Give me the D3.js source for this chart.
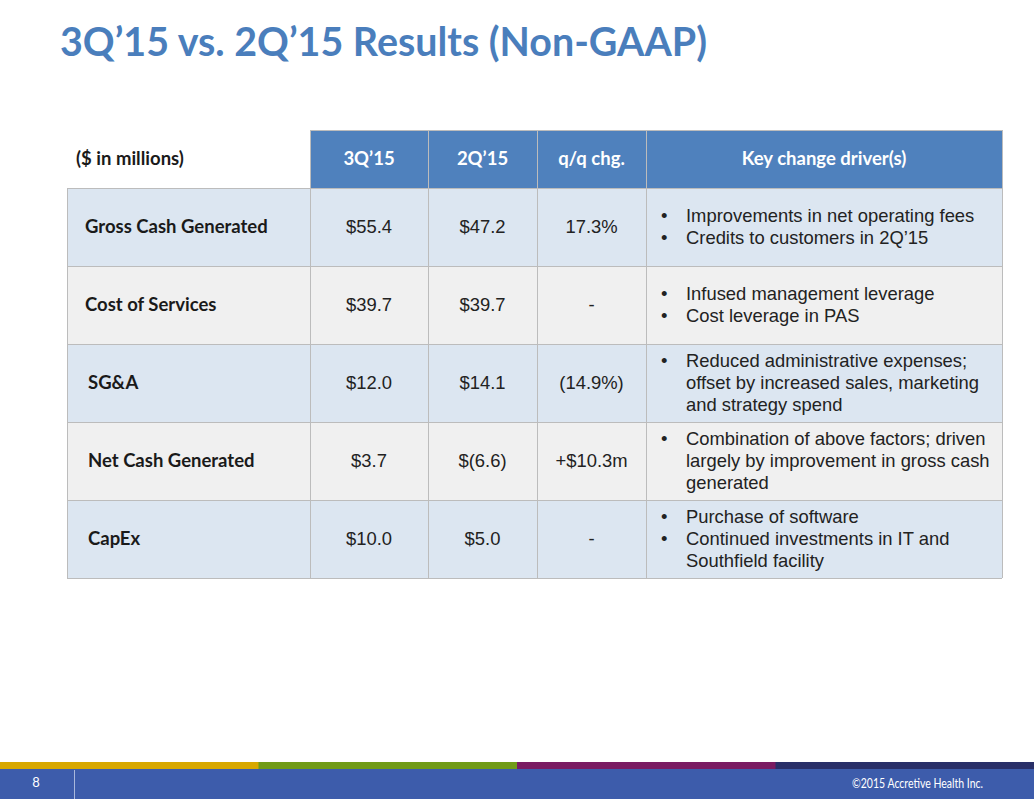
<!DOCTYPE html>
<html>
<head>
<meta charset="utf-8">
<script src="https://cdn.jsdelivr.net/npm/d3@7"></script>
<style>
  html, body { margin: 0; padding: 0; background: #fff; }
  svg { display: block; }
</style>
</head>
<body>
<div id="chart"></div>
<script>
// --- data ---
const titleText = "3Q\u201915 vs. 2Q\u201915 Results (Non-GAAP)";
const columnHeaders = ["($ in millions)", "3Q\u201915", "2Q\u201915", "q/q chg.", "Key change driver(s)"];
const rowLabels = ["Gross Cash Generated", "Cost of Services", "SG&A", "Net Cash Generated", "CapEx"];
const q3Values = ["$55.4", "$39.7", "$12.0", "$3.7", "$10.0"];
const q2Values = ["$47.2", "$39.7", "$14.1", "$(6.6)", "$5.0"];
const qqChange = ["17.3%", "-", "(14.9%)", "+$10.3m", "-"];
const drivers = [
  ["Improvements in net operating fees", "Credits to customers in 2Q\u201915"],
  ["Infused management leverage", "Cost leverage in PAS"],
  ["Reduced administrative expenses; offset by increased sales, marketing and strategy spend"],
  ["Combination of above factors; driven largely by improvement in gross cash generated"],
  ["Purchase of software", "Continued investments in IT and Southfield facility"]
];
const pageNumber = "8";
const copyright = "\u00a92015 Accretive Health Inc.";
const stripeColors = ["#d8a800", "#719b17", "#7a1b62", "#292f68"];

// --- layout ---
const W = 1034, H = 799;
const colEdges = [67, 310, 428, 537, 646, 1002];
const headerTop = 130, bodyTop = 188, bodyBottom = 578;
const rowFills = ["#dce6f1", "#f0f0f0"];
const gridColor = "#bcbcbc";
const headFont = "Lato, 'Open Sans', sans-serif";
const bodyFont = "'Liberation Sans', Arial, sans-serif";
const headSize = 18.5, bodySize = 18.4;

const svg = d3.select("#chart").append("svg")
  .attr("width", W).attr("height", H)
  .attr("viewBox", `0 0 ${W} ${H}`);

// title
svg.append("text")
  .attr("x", 60).attr("y", 56)
  .attr("font-family", headFont).attr("font-weight", 700)
  .attr("font-size", 39.4).attr("fill", "#4a7ebc")
  .text(titleText);

// scales
const y = d3.scaleBand().domain(rowLabels).range([bodyTop, bodyBottom]);
const cols = columnHeaders.map((h, i) => ({ name: h, x0: colEdges[i], x1: colEdges[i + 1] }));

const table = svg.append("g").attr("class", "table");

// header cells (skip first, which is plain)
table.selectAll("rect.head")
  .data(cols.slice(1))
  .join("rect")
  .attr("class", "head")
  .attr("x", d => d.x0).attr("y", headerTop)
  .attr("width", d => d.x1 - d.x0).attr("height", bodyTop - headerTop)
  .attr("fill", "#4f81bd");

table.selectAll("text.head")
  .data(cols)
  .join("text")
  .attr("class", "head")
  .attr("x", (d, i) => i === 0 ? 76 : (d.x0 + d.x1) / 2)
  .attr("y", (headerTop + bodyTop) / 2)
  .attr("dy", "0.35em")
  .attr("text-anchor", (d, i) => i === 0 ? "start" : "middle")
  .attr("font-family", headFont).attr("font-weight", 700)
  .attr("font-size", headSize)
  .attr("fill", (d, i) => i === 0 ? "#1a1a1a" : "#fff")
  .text(d => d.name);

// body rows
const rows = table.selectAll("g.row")
  .data(rowLabels.map((label, i) => ({
    label, i,
    cells: [q3Values[i], q2Values[i], qqChange[i]],
    drivers: drivers[i]
  })))
  .join("g")
  .attr("class", "row");

rows.append("rect")
  .attr("x", colEdges[0]).attr("y", d => y(d.label))
  .attr("width", colEdges[5] - colEdges[0]).attr("height", y.bandwidth())
  .attr("fill", d => rowFills[d.i % 2]);

rows.append("text")
  .attr("x", d => d.i < 2 ? 85 : 88)
  .attr("y", d => y(d.label) + y.bandwidth() / 2)
  .attr("dy", "0.35em")
  .attr("font-family", headFont).attr("font-weight", 700)
  .attr("font-size", headSize).attr("fill", "#1a1a1a")
  .text(d => d.label);

rows.each(function(d) {
  const g = d3.select(this);
  const cy = y(d.label) + y.bandwidth() / 2;
  d.cells.forEach((v, j) => {
    const c = cols[j + 1];
    g.append("text")
      .attr("x", (c.x0 + c.x1) / 2).attr("y", cy).attr("dy", "0.35em")
      .attr("text-anchor", "middle")
      .attr("font-family", bodyFont).attr("font-size", bodySize)
      .attr("fill", "#222")
      .text(v);
  });

  // wrap driver bullets
  const textX = 686, bulletX = 661, maxW = colEdges[5] - textX - 6, lh = 22;
  const measure = g.append("text").attr("font-family", bodyFont).attr("font-size", bodySize);
  const lines = [];
  d.drivers.forEach(item => {
    const words = item.split(" ");
    let line = [];
    let first = true;
    words.forEach(w => {
      const test = line.concat(w).join(" ");
      measure.text(test);
      if (line.length && measure.node().getComputedTextLength() > maxW) {
        lines.push({ text: line.join(" "), bullet: first });
        first = false;
        line = [w];
      } else {
        line.push(w);
      }
    });
    lines.push({ text: line.join(" "), bullet: first });
  });
  measure.remove();

  const startY = cy - (lines.length - 1) * lh / 2;
  lines.forEach((l, k) => {
    const ly = startY + k * lh;
    if (l.bullet) {
      g.append("text")
        .attr("x", bulletX).attr("y", ly).attr("dy", "0.35em")
        .attr("font-family", bodyFont).attr("font-size", bodySize).attr("fill", "#222")
        .text("\u2022");
    }
    g.append("text")
      .attr("x", textX).attr("y", ly).attr("dy", "0.35em")
      .attr("font-family", bodyFont).attr("font-size", bodySize).attr("fill", "#222")
      .text(l.text);
  });
});

// grid lines
const grid = table.append("g")
  .attr("stroke", gridColor).attr("stroke-width", 1).attr("shape-rendering", "crispEdges");

// horizontal
grid.selectAll("line.h")
  .data(rowLabels.concat(["__end"]))
  .join("line")
  .attr("x1", colEdges[0]).attr("x2", colEdges[5])
  .attr("y1", d => d === "__end" ? bodyBottom : y(d))
  .attr("y2", d => d === "__end" ? bodyBottom : y(d));
grid.append("line")
  .attr("x1", colEdges[1]).attr("x2", colEdges[5])
  .attr("y1", headerTop).attr("y2", headerTop);

// vertical
grid.selectAll("line.v")
  .data(colEdges)
  .join("line")
  .attr("x1", d => d).attr("x2", d => d)
  .attr("y1", (d, i) => i === 0 ? bodyTop : headerTop)
  .attr("y2", bodyBottom);

// footer
const stripeX = d3.scaleBand().domain(d3.range(stripeColors.length)).range([0, W]);
svg.selectAll("rect.stripe")
  .data(stripeColors)
  .join("rect")
  .attr("class", "stripe")
  .attr("x", (d, i) => stripeX(i)).attr("y", 762)
  .attr("width", stripeX.bandwidth() + 0.5).attr("height", 8)
  .attr("fill", d => d);

svg.append("rect")
  .attr("x", 0).attr("y", 769).attr("width", W).attr("height", H - 769)
  .attr("fill", "#3d5cab");

svg.append("line")
  .attr("x1", 74.5).attr("x2", 74.5).attr("y1", 770).attr("y2", H)
  .attr("stroke", "#a9b8dc").attr("stroke-width", 1);

svg.append("text")
  .attr("x", 36).attr("y", 787).attr("text-anchor", "middle")
  .attr("font-family", headFont).attr("font-size", 13).attr("fill", "#fff")
  .text(pageNumber);

svg.append("text")
  .attr("x", 983).attr("y", 788).attr("text-anchor", "end")
  .attr("font-family", headFont).attr("font-size", 12.5).attr("fill", "#fff")
  .attr("textLength", 131).attr("lengthAdjust", "spacingAndGlyphs")
  .text(copyright);
</script>
</body>
</html>
